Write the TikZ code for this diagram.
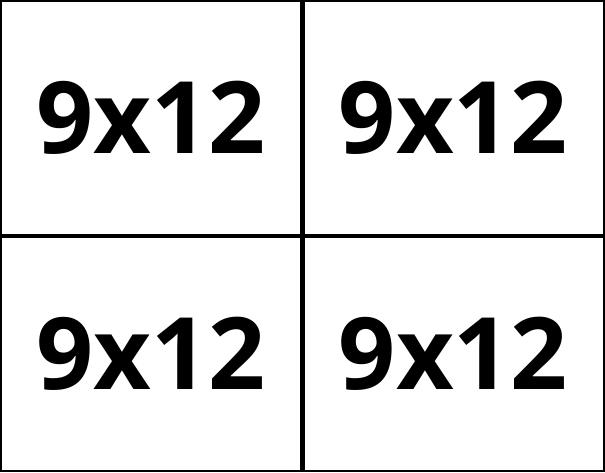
\documentclass[tikz,border=0pt]{standalone}
\usepackage{fontspec}
\setmainfont{Open Sans}
\begin{document}
\begin{tikzpicture}[x=1pt,y=-1pt,
  cell/.style={draw=black,line width=2.5pt,rectangle,minimum width=300.5pt,minimum height=234pt,
    inner sep=0pt,outer sep=0pt,font=\fontsize{100}{110}\selectfont\bfseries,text=black}]
\useasboundingbox (0,0) rectangle (605,472);
\node[cell] (tl) at (151,118) {9x12};
\node[cell] (tr) at (453.5,118) {9x12};
\node[cell] (bl) at (151,354) {9x12};
\node[cell] (br) at (453.5,354) {9x12};
\end{tikzpicture}
\end{document}
